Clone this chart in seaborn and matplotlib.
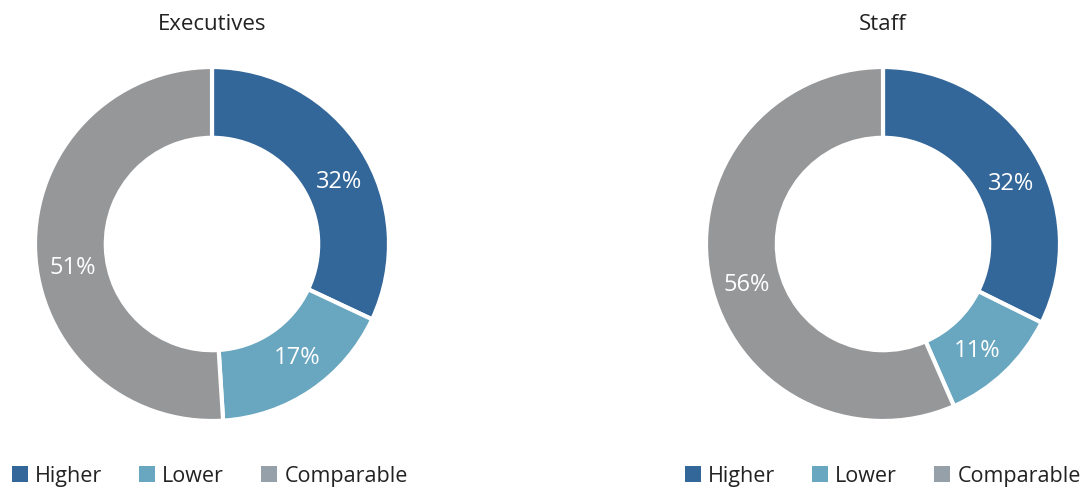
import numpy as np
import matplotlib.pyplot as plt
import seaborn as sns
from matplotlib.patches import Patch

categories = ['Higher', 'Lower', 'Comparable']
executives = [32, 17, 51]
staff = [32, 11, 56]
titles = ['Executives', 'Staff']

colors = ['#336699', '#69a6c0', '#969799']
legend_colors = ['#336699', '#69a6c0', '#95a0a8']

# small angle nudges (degrees, clockwise) so labels sit like the original
label_nudge = [[6, -3, -7.5], [6.5, 2, -4.5]]

sns.set_theme(style='white')
plt.rcParams['font.family'] = ['Open Sans', 'DejaVu Sans']

fig = plt.figure(figsize=(10.91, 4.89), dpi=100)
W, H = 1091, 489
R = 177

centers = [(212, 245), (883, 245)]
legend_x = [12, 685]

for (cx, cy), vals, title, lx, nudge in zip(centers, [executives, staff], titles, legend_x, label_nudge):
    ax = fig.add_axes([(cx - R) / W, (H - cy - R) / H, 2 * R / W, 2 * R / H])
    wedges, texts, autotexts = ax.pie(
        vals, colors=colors, startangle=90, counterclock=False,
        radius=1, autopct='%d%%', pctdistance=0.8,
        wedgeprops=dict(width=0.4, edgecolor='white', linewidth=3),
        textprops=dict(color='white', fontsize=17))
    for w, t, d in zip(wedges, autotexts, nudge):
        ang = np.deg2rad((w.theta1 + w.theta2) / 2 - d)
        t.set_position((0.8 * np.cos(ang), 0.8 * np.sin(ang)))
    ax.set_xlim(-1, 1)
    ax.set_ylim(-1, 1)
    ax.set_aspect('equal')
    ax.axis('off')
    fig.text(cx / W, 1 - 25 / H, title, ha='center', va='center', fontsize=16, color='#222222')

    handles = [Patch(facecolor=c, edgecolor='none') for c in legend_colors]
    fig.legend(handles, categories, loc='center left', bbox_to_anchor=(lx / W, 1 - 477 / H),
               ncol=3, frameon=False, fontsize=15.5, handlelength=0.72, handleheight=0.72,
               handletextpad=0.35, columnspacing=1.72, borderpad=0, borderaxespad=0,
               labelcolor='#222222')

plt.savefig('out.png', dpi=100)
